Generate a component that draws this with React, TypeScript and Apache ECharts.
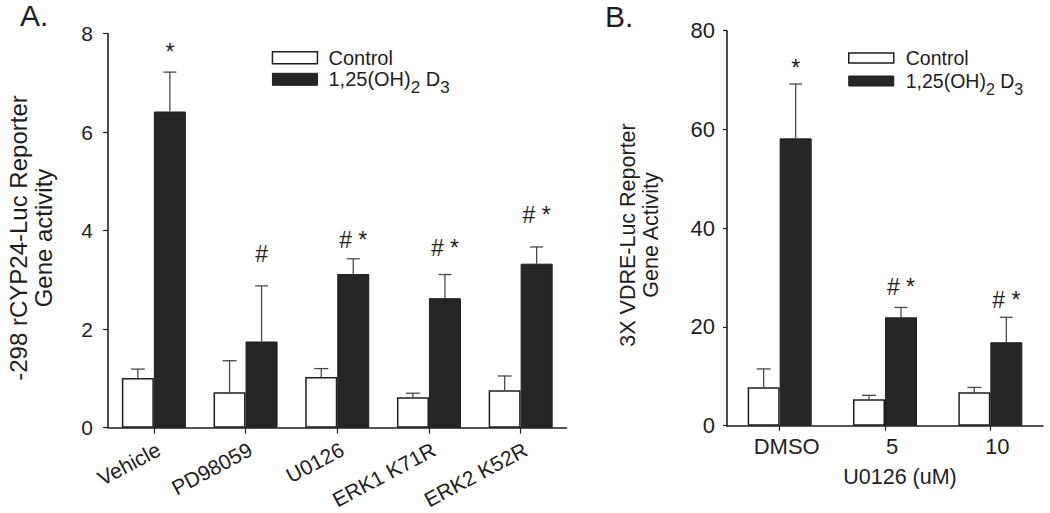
import React, { useEffect, useRef } from 'react';
import * as echarts from 'echarts';

const FONT = '"Liberation Sans", Arial, Helvetica, sans-serif';
const INK = '#1e1e1e';
const DARK = '#262626';
const ERR = '#4a4a4a';

// Panel A
const catsA = ['Vehicle', 'PD98059', 'U0126', 'ERK1 K71R', 'ERK2 K52R'];
const ctrlA = [1.01, 0.72, 1.03, 0.62, 0.76];
const ctrlErrA = [0.18, 0.64, 0.17, 0.08, 0.29];
const d3A = [6.42, 1.75, 3.12, 2.63, 3.33];
const d3ErrA = [0.8, 1.13, 0.31, 0.48, 0.34];
const marksA = ['*', '#', '# *', '# *', '# *'];
const markYA = [7.63, 3.53, 3.81, 3.64, 4.32];
const ticksA = { min: 0, max: 8, interval: 2 };

// Panel B
const catsB = ['DMSO', '5', '10'];
const ctrlB = [7.8, 5.35, 6.75];
const ctrlErrB = [3.7, 0.8, 1.0];
const d3B = [58.2, 21.95, 16.9];
const d3ErrB = [11.0, 2.0, 5.05];
const marksB = ['*', '# *', '# *'];
const markYB = [72.5, 28.1, 25.5];
const ticksB = { min: 0, max: 80, interval: 20 };

const NAME_C = 'Control';
const NAME_D = '1,25(OH)2 D3';
const BAR_W = 32;

function errSeries(xi: number, means: number[], errs: number[], offset: number, cap: number) {
  return {
    type: 'custom',
    xAxisIndex: xi,
    yAxisIndex: xi,
    silent: true,
    clip: false,
    z: 3,
    data: means.map((m, i) => [i, m, m + errs[i]]),
    encode: { x: 0, y: [1, 2] },
    renderItem: (params: any, api: any) => {
      const i = api.value(0);
      const p0 = api.coord([i, api.value(1)]);
      const p1 = api.coord([i, api.value(2)]);
      const x = p0[0] + offset;
      const st = { stroke: ERR, lineWidth: 1.3 };
      return {
        type: 'group',
        children: [
          { type: 'line', shape: { x1: x, y1: p0[1], x2: x, y2: p1[1] }, style: st },
          { type: 'line', shape: { x1: x - cap / 2, y1: p1[1], x2: x + cap / 2, y2: p1[1] }, style: st },
        ],
      };
    },
  };
}

function markSeries(xi: number, labels: string[], ys: number[], offset: number, size: number) {
  return {
    type: 'custom',
    xAxisIndex: xi,
    yAxisIndex: xi,
    silent: true,
    clip: false,
    z: 4,
    data: ys.map((y, i) => [i, y]),
    encode: { x: 0, y: 1 },
    renderItem: (params: any, api: any) => {
      const i = api.value(0);
      const p = api.coord([i, api.value(1)]);
      return {
        type: 'text',
        x: p[0] + offset,
        y: p[1],
        style: {
          text: labels[params.dataIndex],
          fill: INK,
          fontSize: size,
          fontFamily: FONT,
          align: 'center',
          verticalAlign: 'middle',
        },
      };
    },
  };
}

function legend(left: number, top: number, fs: number, subFs: number, subPad: number, ih: number, gap: number, pad: number) {
  return {
    orient: 'vertical',
    left,
    top,
    padding: 0,
    itemGap: gap,
    itemWidth: 45,
    itemHeight: ih,
    icon: 'rect',
    selectedMode: false,
    data: [
      { name: NAME_C, itemStyle: { color: '#fff', borderColor: INK, borderWidth: 1.5 } },
      { name: NAME_D, itemStyle: { color: DARK, borderColor: INK, borderWidth: 1 } },
    ],
    formatter: (name: string) => (name === NAME_C ? '{n|Control}' : '{n|1,25(OH)}{s|2}{n| D}{s|3}'),
    textStyle: {
      fontFamily: FONT,
      color: INK,
      fontSize: fs,
      padding: [0, 0, 0, pad],
      rich: {
        n: { fontSize: fs, fontFamily: FONT, color: INK },
        s: { fontSize: subFs, fontFamily: FONT, color: INK, padding: [subPad, 0, 0, 0] },
      },
    },
  };
}

const axisLine = { show: true, lineStyle: { color: INK, width: 1.6 } };

const option: any = {
  animation: false,
  backgroundColor: '#fff',
  grid: [
    { left: 108, top: 33.7, width: 458.5, height: 394, outerBoundsMode: 'none', containLabel: false },
    { left: 727, top: 30.7, width: 316, height: 395, outerBoundsMode: 'none', containLabel: false },
  ],
  xAxis: [
    {
      type: 'category',
      gridIndex: 0,
      data: catsA,
      axisLine,
      axisTick: { show: true, alignWithLabel: true, length: 6, lineStyle: { color: INK, width: 1.2 } },
      axisLabel: {
        rotate: 28,
        verticalAlign: 'top',
        margin: 11,
        fontSize: 21,
        fontFamily: FONT,
        color: INK,
        interval: 0,
        hideOverlap: false,
      },
    },
    {
      type: 'category',
      gridIndex: 1,
      data: catsB,
      axisLine,
      axisTick: { show: true, alignWithLabel: true, length: 5, lineStyle: { color: INK, width: 1.2 } },
      axisLabel: { margin: 10, fontSize: 22, fontFamily: FONT, color: INK, interval: 0, padding: [0, 0, 0, 14] },
    },
  ],
  yAxis: [
    {
      type: 'value',
      gridIndex: 0,
      ...ticksA,
      axisLine,
      axisTick: { show: true, length: 5, lineStyle: { color: INK, width: 1.2 } },
      splitLine: { show: false },
      axisLabel: { margin: 15, fontSize: 21, fontFamily: FONT, color: INK },
    },
    {
      type: 'value',
      gridIndex: 1,
      ...ticksB,
      axisLine,
      axisTick: { show: true, length: 4, lineStyle: { color: INK, width: 1.2 } },
      splitLine: { show: false },
      axisLabel: { margin: 12, fontSize: 22, fontFamily: FONT, color: INK },
    },
  ],
  legend: [
    legend(271.7, 47.8, 20, 17, 16, 12, 1.5, 6),
    legend(848, 48, 19.5, 16, 16, 10, 3, 7),
  ],
  graphic: [
    { type: 'text', left: 20, top: 0, style: { text: 'A.', fontSize: 30, fontFamily: FONT, fill: INK } },
    { type: 'text', left: 605, top: 1, style: { text: 'B.', fontSize: 30, fontFamily: FONT, fill: INK } },
    {
      type: 'text',
      x: 31,
      y: 238,
      rotation: Math.PI / 2,
      style: {
        text: '-298 rCYP24-Luc Reporter\nGene activity',
        fontSize: 24,
        lineHeight: 25,
        fontFamily: FONT,
        fill: INK,
        align: 'center',
        verticalAlign: 'middle',
      },
    },
    {
      type: 'text',
      x: 639,
      y: 235,
      rotation: Math.PI / 2,
      style: {
        text: '3X VDRE-Luc Reporter\nGene Activity',
        fontSize: 21.5,
        lineHeight: 23,
        fontFamily: FONT,
        fill: INK,
        align: 'center',
        verticalAlign: 'middle',
      },
    },
    {
      type: 'text',
      x: 900,
      y: 477,
      style: {
        text: 'U0126 (uM)',
        fontSize: 21.5,
        fontFamily: FONT,
        fill: INK,
        align: 'center',
        verticalAlign: 'middle',
      },
    },
  ],
  series: [
    {
      type: 'bar', name: NAME_C, xAxisIndex: 0, yAxisIndex: 0, data: ctrlA,
      barWidth: BAR_W, barGap: '0%',
      itemStyle: { color: '#fff', borderColor: INK, borderWidth: 1.5 },
    },
    {
      type: 'bar', name: NAME_D, xAxisIndex: 0, yAxisIndex: 0, data: d3A,
      barWidth: BAR_W, barGap: '0%',
      itemStyle: { color: DARK, borderColor: INK, borderWidth: 1 },
    },
    {
      type: 'bar', name: NAME_C, xAxisIndex: 1, yAxisIndex: 1, data: ctrlB,
      barWidth: BAR_W, barGap: '0%',
      itemStyle: { color: '#fff', borderColor: INK, borderWidth: 1.5 },
    },
    {
      type: 'bar', name: NAME_D, xAxisIndex: 1, yAxisIndex: 1, data: d3B,
      barWidth: BAR_W, barGap: '0%',
      itemStyle: { color: DARK, borderColor: INK, borderWidth: 1 },
    },
    errSeries(0, ctrlA, ctrlErrA, -BAR_W / 2, 14),
    errSeries(0, d3A, d3ErrA, BAR_W / 2, 13),
    errSeries(1, ctrlB, ctrlErrB, -BAR_W / 2, 14),
    errSeries(1, d3B, d3ErrB, BAR_W / 2, 13),
    markSeries(0, marksA, markYA, BAR_W / 2, 23),
    markSeries(1, marksB, markYB, BAR_W / 2, 23),
  ],
};

export default function App() {
  const ref = useRef<HTMLDivElement>(null);
  useEffect(() => {
    const chart = echarts.init(ref.current as HTMLDivElement, null, { renderer: 'svg' });
    chart.setOption(option);
    return () => chart.dispose();
  }, []);
  return (
    <div
      ref={ref}
      style={{ position: 'fixed', left: 0, top: 0, width: 1050, height: 513, background: '#fff' }}
    />
  );
}
